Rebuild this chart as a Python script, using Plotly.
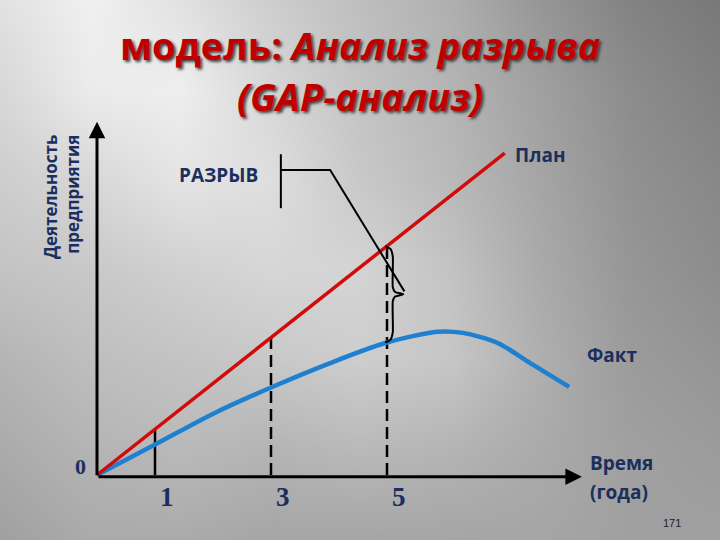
import numpy as np
import plotly.graph_objects as go

# ---------------- data ----------------
plan_years = [0, 7.03]
plan_values = [0, 5.55]
fact_years = [0, 1.01, 2.03, 3.05, 4.02, 4.98, 5.87, 6.31, 6.90, 7.47, 8.14]
fact_values = [0, 0.53, 1.07, 1.53, 1.93, 2.28, 2.47, 2.45, 2.28, 1.93, 1.52]
marker_years = [1, 3, 5]
marker_dash = ["solid", "dash", "dash"]
tick_labels = ["1", "3", "5"]
gap_year = 5
x_axis_end = 8.36
y_axis_end = 6.09

# background gray levels, grid in screen fractions
bg_cols = [0, 0.125, 0.25, 0.375, 0.5, 0.625, 0.75, 0.875, 1.0]
bg_rows = [0, 1 / 6, 2 / 6, 3 / 6, 4 / 6, 5 / 6, 1.0]
bg_levels = [
    [225, 240, 225, 205, 190, 175, 150, 130, 120],
    [215, 235, 238, 215, 195, 180, 160, 140, 128],
    [205, 215, 228, 222, 200, 185, 165, 145, 135],
    [195, 200, 208, 214, 212, 195, 170, 150, 140],
    [180, 190, 195, 200, 205, 198, 175, 155, 148],
    [170, 180, 185, 180, 185, 180, 170, 160, 155],
    [160, 170, 170, 165, 165, 165, 165, 160, 160],
]

# ---------------- layout constants ----------------
W, H = 720, 540
PX = 58.0          # pixels per unit
X0, Y0 = 97, 475   # pixel position of origin
xr = [-X0 / PX, (W - X0) / PX]
yr = [-(H - Y0) / PX, Y0 / PX]

NAVY = "#1b2f5e"
RED = "#d10a0a"
BLUE = "#1f80d0"

fig = go.Figure()

# background
bgx = [xr[0] + c * (xr[1] - xr[0]) for c in bg_cols]
bgy = [yr[1] - r * (yr[1] - yr[0]) for r in bg_rows]
fig.add_trace(go.Heatmap(
    x=bgx, y=bgy, z=bg_levels, zmin=0, zmax=255, zsmooth="best",
    colorscale=[[0, "rgb(0,0,0)"], [1, "rgb(255,255,255)"]],
    showscale=False, hoverinfo="skip"))

plan_at = lambda t: float(np.interp(t, plan_years, plan_values))
fact_at = lambda t: float(np.interp(t, fact_years, fact_values))

# vertical markers at years
for yr_, ds in zip(marker_years, marker_dash):
    fig.add_trace(go.Scatter(
        x=[yr_, yr_], y=[0, plan_at(yr_)], mode="lines",
        line=dict(color="black", width=2.5, dash="12px,6px" if ds == "dash" else "solid"),
        hoverinfo="skip", showlegend=False))

# fact curve
fig.add_trace(go.Scatter(
    x=fact_years, y=fact_values, mode="lines",
    line=dict(color=BLUE, width=4.5, shape="spline", smoothing=0.8),
    hoverinfo="skip", showlegend=False))

# plan line
fig.add_trace(go.Scatter(
    x=plan_years, y=plan_values, mode="lines",
    line=dict(color=RED, width=3.5),
    hoverinfo="skip", showlegend=False))

# brace between plan and fact at gap year
top, bot = plan_at(gap_year), fact_at(gap_year)
mid = (top + bot) / 2
g = gap_year
bx = [g - 0.03, g + 0.06, g + 0.10, g + 0.10, g + 0.14, g + 0.28, g + 0.14, g + 0.10, g + 0.10, g + 0.06, g - 0.03]
by = [top, top - 0.05, top - 0.18, mid + 0.12, mid + 0.04, mid, mid - 0.04, mid - 0.12, bot + 0.18, bot + 0.05, bot]
fig.add_trace(go.Scatter(x=bx, y=by, mode="lines",
                         line=dict(color="black", width=2, shape="spline", smoothing=0.5),
                         hoverinfo="skip", showlegend=False))

# leader to label "РАЗРЫВ"
lx, ly = 3.17, 5.26
fig.add_trace(go.Scatter(x=[g + 0.30, 4.02, lx], y=[mid + 0.05, ly, ly], mode="lines",
                         line=dict(color="black", width=2), hoverinfo="skip", showlegend=False))
fig.add_trace(go.Scatter(x=[lx, lx], y=[4.60, 5.53], mode="lines",
                         line=dict(color="black", width=2), hoverinfo="skip", showlegend=False))

# axes arrows
fig.add_annotation(x=x_axis_end, y=-0.03, ax=0, ay=-0.03, xref="x", yref="y", axref="x", ayref="y",
                   text="", showarrow=True, arrowhead=2, arrowsize=1.1, arrowwidth=3, arrowcolor="black")
fig.add_annotation(x=0, y=y_axis_end, ax=0, ay=-0.03, xref="x", yref="y", axref="x", ayref="y",
                   text="", showarrow=True, arrowhead=2, arrowsize=1.1, arrowwidth=3, arrowcolor="black")

sans = "Open Sans"
serif = "Liberation Serif"

def label(text, x, y, size, family=sans, color=NAVY, xanchor="center", **kw):
    fig.add_annotation(x=x, y=y, xref="x", yref="y", text=text, showarrow=False,
                       xanchor=xanchor, yanchor="middle",
                       font=dict(family=family, size=size, color=color), **kw)

label("<b>РАЗРЫВ</b>", 2.09, 5.17, 19)
label("<b>План</b>", 7.64, 5.52, 19)
label("<b>Факт</b>", 8.88, 2.07, 19)
label("<b>Время</b>", 8.47, 0.21, 19, xanchor="left")
label("<b>(года)</b>", 8.47, -0.29, 19, xanchor="left")
label("<b>0</b>", -0.29, 0.14, 22, family=serif)
for t, s in zip(marker_years, tick_labels):
    label("<b>" + s + "</b>", t, -0.38, 27, family=serif, xshift=12)
label("171", 9.91, -0.83, 11, family="Liberation Sans", color="#222222")

# y axis title
fig.add_annotation(x=61 / W, y=1 - 197 / H, xref="paper", yref="paper",
                   xanchor="center", yanchor="middle",
                   text="<b>Деятельность<br>предприятия</b>", textangle=-90, align="right",
                   showarrow=False, font=dict(family=sans, size=17, color=NAVY))

# title
title_font = dict(family=sans, size=38, color="#c00000", shadow="2px 2px 3px #404040")
fig.add_annotation(x=0.5, y=1 - 45 / H, xref="paper", yref="paper", xanchor="center", yanchor="middle",
                   text="<b>модель: <i>Анализ разрыва</i></b>", showarrow=False, font=title_font)
fig.add_annotation(x=0.5, y=1 - 96 / H, xref="paper", yref="paper", xanchor="center", yanchor="middle",
                   text="<b><i>(GAP-анализ)</i></b>", showarrow=False, font=title_font)

fig.update_layout(
    width=W, height=H, margin=dict(l=0, r=0, t=0, b=0),
    paper_bgcolor="#b0b0b0", plot_bgcolor="#b0b0b0", showlegend=False,
    xaxis=dict(range=xr, visible=False, fixedrange=True),
    yaxis=dict(range=yr, visible=False, fixedrange=True),
)
fig.write_html("out.html", config={"displayModeBar": False},
               post_script="document.body.style.margin='0px';")
